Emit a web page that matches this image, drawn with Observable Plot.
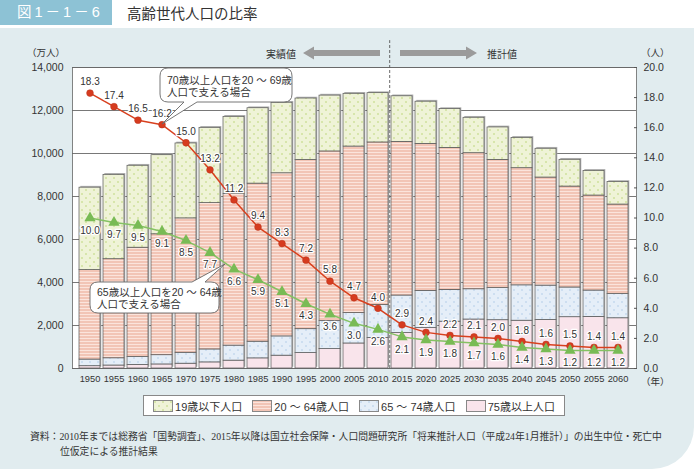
<!DOCTYPE html>
<html><head><meta charset="utf-8">
<script src="https://cdn.jsdelivr.net/npm/d3@7"></script>
<script src="https://cdn.jsdelivr.net/npm/@observablehq/plot@0.6"></script>
<style>
body{margin:0;background:#fff;}
#wrap{position:relative;width:694px;height:469px;overflow:hidden;font-family:"Liberation Sans",Arial,"Noto Sans CJK JP",sans-serif;color:#333;}
#panel{position:absolute;left:0;top:28px;width:694px;height:441px;background:#e1ecef;border-bottom-right-radius:42px;}
#tbox{position:absolute;left:0;top:0;width:112px;height:25px;background:#8dc2d5;color:#fff;font-size:14.5px;line-height:25px;padding-left:17px;box-sizing:border-box;letter-spacing:3px;}
#title{position:absolute;left:127px;top:0;height:25px;line-height:25px;font-size:14.5px;color:#333;font-family:"Noto Sans CJK JP",sans-serif;}
#chart{position:absolute;left:0;top:0;}
#over{position:absolute;left:0;top:0;pointer-events:none;}
.lab{position:absolute;font-size:9.5px;color:#333;white-space:nowrap;font-family:"Noto Sans CJK JP",sans-serif;}
#legend{position:absolute;left:143px;top:395px;width:422px;height:21px;background:#fff;border:1px solid #888;box-sizing:border-box;display:flex;align-items:center;justify-content:space-around;font-size:11px;font-family:"Liberation Sans","Noto Sans CJK JP",sans-serif;padding:0 4px;}
#legend span.it{display:flex;align-items:center;white-space:nowrap;}
#legend svg{margin-right:2px;}
#foot{position:absolute;left:30px;top:429px;font-size:9.8px;line-height:15px;color:#333;font-family:"Liberation Serif","Noto Sans CJK JP",serif;}
#foot .l2{padding-left:30px;}
</style></head>
<body>
<svg width="0" height="0" style="position:absolute">
<defs>
<pattern id="p19" patternUnits="userSpaceOnUse" width="8" height="8">
<rect width="8" height="8" fill="#eff3d7"/>
<circle cx="2" cy="2" r="0.75" fill="#b5d06a"/>
<circle cx="6" cy="6" r="0.75" fill="#b5d06a"/>
</pattern>
<pattern id="p20" patternUnits="userSpaceOnUse" width="6" height="3">
<rect width="6" height="3" fill="#f2c5b6"/>
<rect y="2" width="6" height="1" fill="#fbe4dc"/>
</pattern>
<pattern id="p65" patternUnits="userSpaceOnUse" width="8" height="8">
<rect width="8" height="8" fill="#e5eef8"/>
<circle cx="2" cy="2" r="0.75" fill="#aac6e6"/>
<circle cx="6" cy="6" r="0.75" fill="#aac6e6"/>
</pattern>
<pattern id="p75" patternUnits="userSpaceOnUse" width="8" height="8">
<rect width="8" height="8" fill="#f9e4eb"/>
</pattern>
</defs>
</svg>
<div id="wrap">
  <div id="panel"></div>
  <div id="tbox">図1－1－6</div>
  <div id="title">高齢世代人口の比率</div>
  <div id="chart"></div>
  <svg id="over" width="694" height="469"></svg>
  <div class="lab" style="left:27px;top:45px;">（万人）</div>
  <div class="lab" style="left:641px;top:45px;">（人）</div>
  <div class="lab" style="left:641px;top:374px;">（年）</div>
  <div class="lab" style="left:266px;top:46px;font-size:10px;">実績値</div>
  <div class="lab" style="left:487px;top:46px;font-size:10px;">推計値</div>
  <div id="legend"></div>
  <div id="foot"><div>資料：2010年までは総務省「国勢調査」、2015年以降は国立社会保障・人口問題研究所「将来推計人口（平成24年1月推計）」の出生中位・死亡中</div><div class="l2">位仮定による推計結果</div></div>
</div>
<script>
// ---- data (万人) ----
const years = ["1950","1955","1960","1965","1970","1975","1980","1985","1990","1995","2000","2005","2010","2015","2020","2025","2030","2035","2040","2045","2050","2055","2060"];
const age0_19  = [3835,3925,3812,3679,3484,3503,3584,3506,3281,2860,2597,2453,2292,2119,1962,1804,1649,1509,1412,1339,1245,1148,1048];
const age20_64 = [4160,4608,5083,5624,6250,6804,7057,7352,7587,7869,7892,7748,7566,7146,6836,6605,6328,5962,5448,5026,4695,4419,4162];
const age65_74 = [310,336,371,429,509,603,699,776,896,1111,1304,1412,1529,1749,1733,1478,1407,1496,1645,1599,1383,1225,1128];
const age75up  = [106,139,164,189,224,284,366,471,597,717,900,1164,1419,1646,1879,2179,2278,2245,2223,2257,2385,2401,2336];
// ratios (人)
const ratio70by20_69 = [18.3,17.4,16.5,16.2,15.0,13.2,11.2,9.4,8.3,7.2,5.8,4.7,4.0,2.9,2.4,2.2,2.1,2.0,1.8,1.6,1.5,1.4,1.4];
const ratio65by20_64 = [10.0,9.7,9.5,9.1,8.5,7.7,6.6,5.9,5.1,4.3,3.6,3.0,2.6,2.1,1.9,1.8,1.7,1.6,1.4,1.3,1.2,1.2,1.2];
const groups = ["75歳以上人口","65 ～ 74歳人口","20 ～ 64歳人口","19歳以下人口"];
const groupFills = ["url(#p75)","url(#p65)","url(#p20)","url(#p19)"];
const leftTicks = [0,2000,4000,6000,8000,10000,12000,14000];
const rightTicks = [0,2,4,6,8,10,12,14,16,18,20];
const splitYear = "2015";

// ---- build tables ----
const R = 14000/20; // right axis (人) mapped onto left axis (万人)
const series = [age75up, age65_74, age20_64, age0_19];
const rows = years.flatMap((yr,i)=>series.map((s,k)=>({year:yr, group:groups[k], value:s[i]})));
const totals = years.map((yr,i)=>({year:yr, total: series.reduce((a,s)=>a+s[i],0)}));
const red = years.map((yr,i)=>({year:yr, v:ratio70by20_69[i]}));
const green = years.map((yr,i)=>({year:yr, v:ratio65by20_64[i]}));
const FONT = '"Liberation Sans",Arial,"Noto Sans CJK JP",sans-serif';

const chart = Plot.plot({
  width: 694, height: 400,
  marginTop: 67, marginBottom: 32, marginLeft: 72, marginRight: 58,
  style: {background: "transparent", fontFamily: FONT, fontSize: "10.5px", color: "#333", overflow: "visible"},
  x: {type: "band", domain: years, paddingInner: 0.12, paddingOuter: 0.03, label: null},
  y: {domain: [0, 14000], label: null},
  color: {type: "ordinal", domain: groups, range: groupFills},
  marks: [
    Plot.frame({fill: "white"}),
    Plot.ruleY(leftTicks, {stroke: "#555", strokeWidth: 0.8}),
    Plot.ruleX([splitYear], {x: d => d, y1: 0, y2: 15250, dx: -12.3, stroke: "#444", strokeWidth: 0.8, strokeDasharray: "3,2"}),
    Plot.barY(totals, {x: "year", y: "total", fill: "#b0b0b0", dx: 1.3, dy: -1.3}),
    Plot.barY(rows, {x: "year", y: "value", fill: "group", stroke: "#555", strokeWidth: 0.7}),
    Plot.frame({stroke: "#666", strokeWidth: 0.8}),
    Plot.line(red, {x: "year", y: d => d.v * R, stroke: "#d8401e", strokeWidth: 1.5}),
    Plot.line(green, {x: "year", y: d => d.v * R, stroke: "#84c163", strokeWidth: 1.5}),
    Plot.dot(red, {x: "year", y: d => d.v * R, r: 3.4, fill: "#d63b1f", stroke: "#b8321a", strokeWidth: 0.5}),
    Plot.dot(green, {x: "year", y: d => d.v * R, symbol: "triangle", r: 4.2, fill: "#79bb55"}),
    Plot.text(red, {x: "year", y: d => d.v * R, text: d => d.v.toFixed(1), dy: -11, fontSize: 10, fill: "#333", stroke: "white", strokeWidth: 2.5}),
    Plot.text(green, {x: "year", y: d => d.v * R, text: d => d.v.toFixed(1), dy: 12.5, fontSize: 10, fill: "#333", stroke: "white", strokeWidth: 2.5}),
    Plot.axisY({anchor: "left", ticks: leftTicks, tickFormat: d3.format(","), tickSize: 0, tickPadding: 9, fontSize: 10.5, label: null}),
    Plot.axisY({anchor: "right", ticks: rightTicks.map(v => v * R), tickFormat: () => "", tickSize: 3, dx: -3, label: null, stroke: "#555"}),
    Plot.axisY({anchor: "right", ticks: rightTicks.map(v => v * R), tickFormat: d => (d / R).toFixed(1), tickSize: 0, tickPadding: 7, fontSize: 10.5, label: null}),
    Plot.axisX({tickSize: 0, tickPadding: 7, fontSize: 9.3, label: null})
  ]
});
document.getElementById("chart").appendChild(chart);

// ---- annotations (arrows and callouts) ----
const over = document.getElementById("over");
function bubble(x0,y0,x1,y1,r,tail){
  let p = `M${x0+r},${y0} `;
  if (tail.edge==="top") p += `H${tail.a} L${tail.tx},${tail.ty} L${tail.b},${y0} `;
  p += `H${x1-r} Q${x1},${y0} ${x1},${y0+r} V${y1-r} Q${x1},${y1} ${x1-r},${y1} `;
  if (tail.edge==="bottom") p += `H${tail.b} L${tail.tx},${tail.ty} L${tail.a},${y1} `;
  p += `H${x0+r} Q${x0},${y1} ${x0},${y1-r} V${y0+r} Q${x0},${y0} ${x0+r},${y0} Z`;
  return `<path d="${p}" fill="white" stroke="#666" stroke-width="0.9"/>`;
}
const tf = `font-family='"Liberation Sans","Noto Sans CJK JP",sans-serif' font-size="10.5" fill="#333"`;
over.innerHTML = `
  <polygon points="303,53 314,46.5 314,50 380,50 380,56 314,56 314,59.5" fill="#9b9b9b"/>
  <polygon points="477,53 466,46.5 466,50 400,50 400,56 466,56 466,59.5" fill="#9b9b9b"/>
  ${bubble(160,68,292,102,8,{edge:"bottom",a:184,b:197,tx:162,ty:124})}
  <text x="167" y="84" ${tf}>70歳以上人口を20 ～ 69歳</text>
  <text x="167" y="96" ${tf}>人口で支える場合</text>
  ${bubble(90,282,219,313,8,{edge:"top",a:192,b:205,tx:225,ty:264})}
  <text x="97" y="296" ${tf}>65歳以上人口を20 ～ 64歳</text>
  <text x="97" y="308" ${tf}>人口で支える場合</text>
`;

// ---- legend ----
const legOrder = [3,2,1,0];
document.getElementById("legend").innerHTML = legOrder.map(k =>
  `<span class="it"><svg width="20" height="12"><rect x="0.5" y="0.5" width="19" height="11" fill="${groupFills[k]}" stroke="#888"/></svg>${groups[k]}</span>`
).join("");
</script>
</body></html>
